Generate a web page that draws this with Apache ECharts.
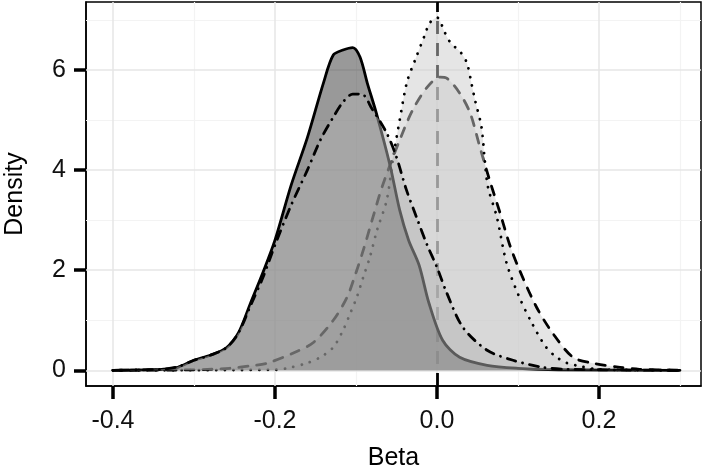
<!DOCTYPE html>
<html><head><meta charset="utf-8">
<script src="https://cdn.jsdelivr.net/npm/echarts@6/dist/echarts.min.js"></script>
<style>html,body{margin:0;padding:0;background:#fff}#c{width:709px;height:470px}</style>
</head><body><div id="c"></div>
<script>
// Curve A (solid, dark fill)
const aX = [-0.4, -0.36, -0.34, -0.32, -0.30, -0.28, -0.26, -0.245, -0.23, -0.215, -0.2, -0.18, -0.16, -0.14, -0.128, -0.116, -0.104, -0.095, -0.086, -0.075, -0.058, -0.046, -0.035, -0.022, -0.01, 0.007, 0.028, 0.062, 0.1, 0.15, 0.3];
const aY = [0, 0.01, 0.02, 0.06, 0.2, 0.3, 0.45, 0.75, 1.35, 1.95, 2.6, 3.7, 4.65, 5.75, 6.3, 6.4, 6.45, 6.26, 5.74, 5.15, 4.1, 3.2, 2.6, 2.1, 1.35, 0.6, 0.26, 0.1, 0.04, 0.01, 0];
// Curve B (dot-dash)
const bX = [-0.4, -0.34, -0.32, -0.30, -0.28, -0.26, -0.245, -0.23, -0.215, -0.2, -0.18, -0.16, -0.144, -0.128, -0.116, -0.104, -0.093, -0.08, -0.062, -0.05, -0.038, -0.025, -0.012, 0.0, 0.012, 0.032, 0.062, 0.094, 0.13, 0.16, 0.3];
const bY = [0, 0.02, 0.07, 0.2, 0.3, 0.45, 0.75, 1.3, 1.85, 2.5, 3.3, 4.0, 4.6, 5.06, 5.36, 5.52, 5.52, 5.22, 4.74, 4.26, 3.62, 3.05, 2.5, 2.06, 1.55, 0.86, 0.4, 0.2, 0.06, 0.02, 0];
// Curve C (dashed)
const cX = [-0.4, -0.3, -0.256, -0.23, -0.21, -0.178, -0.153, -0.128, -0.111, -0.1, -0.09, -0.079, -0.067, -0.046, -0.03, -0.012, 0.004, 0.012, 0.028, 0.041, 0.053, 0.065, 0.078, 0.09, 0.102, 0.123, 0.143, 0.168, 0.193, 0.226, 0.25, 0.3];
const cY = [0, 0.01, 0.04, 0.09, 0.14, 0.34, 0.55, 1.0, 1.46, 1.95, 2.45, 3.06, 3.7, 4.6, 5.2, 5.66, 5.86, 5.84, 5.54, 5.14, 4.46, 3.8, 3.14, 2.5, 2.0, 1.26, 0.74, 0.26, 0.14, 0.06, 0.02, 0];
// Curve D (dotted)
const dX = [-0.4, -0.2, -0.185, -0.161, -0.144, -0.128, -0.116, -0.107, -0.099, -0.091, -0.083, -0.074, -0.062, -0.054, -0.046, -0.037, -0.027, -0.015, -0.009, 0.0, 0.01, 0.017, 0.029, 0.037, 0.043, 0.047, 0.055, 0.059, 0.063, 0.074, 0.086, 0.102, 0.117, 0.133, 0.146, 0.16, 0.177, 0.2, 0.3];
const dY = [0, 0.01, 0.04, 0.14, 0.26, 0.46, 0.8, 1.14, 1.46, 1.86, 2.25, 2.8, 3.4, 4.26, 5.0, 5.76, 6.2, 6.7, 6.94, 7.05, 6.74, 6.54, 6.36, 6.14, 5.7, 5.4, 4.86, 4.2, 3.66, 3.06, 2.14, 1.45, 0.95, 0.5, 0.28, 0.15, 0.08, 0.02, 0];

const xTicks = [-0.4, -0.2, 0.0, 0.2];
const yTicks = [0, 2, 4, 6];
const xMinor = [-0.3, -0.1, 0.1, 0.3];
const yMinor = [1, 3, 5, 7];
const refLineX = 0;

const pair = (xs, ys) => xs.map((x, i) => [x, ys[i]]);
const FONT = 'Liberation Sans, Arial, sans-serif';

const gridLines = [].concat(
  xMinor.map(v => ({xAxis: v, lineStyle: {color: '#f3f3f3', width: 1.2, type: 'solid'}})),
  yMinor.map(v => ({yAxis: v, lineStyle: {color: '#f3f3f3', width: 1.2, type: 'solid'}})),
  xTicks.map(v => ({xAxis: v, lineStyle: {color: '#e6e6e6', width: 1.5, type: 'solid'}})),
  yTicks.map(v => ({yAxis: v, lineStyle: {color: '#e6e6e6', width: 1.5, type: 'solid'}}))
);

function curve(name, xs, ys, dash, fill, alpha, z) {
  return {
    name, type: 'line', data: pair(xs, ys), z,
    smooth: 0.3, showSymbol: false, symbol: 'none',
    lineStyle: {color: '#000', width: 2.8, type: dash, cap: 'round', join: 'round'},
    areaStyle: {color: fill, opacity: alpha},
    silent: true
  };
}

const chart = echarts.init(document.getElementById('c'), null, {renderer: 'canvas'});
chart.setOption({
  animation: false,
  backgroundColor: '#fff',
  grid: {left: 86, right: 8, top: 2, bottom: 84, show: true, borderColor: '#000', borderWidth: 1.5,
         backgroundColor: 'transparent', containLabel: false, outerBoundsMode: 'none'},
  xAxis: {
    type: 'value', min: -0.4333, max: 0.326,
    name: 'Beta', nameLocation: 'middle', nameGap: 60,
    nameTextStyle: {fontFamily: FONT, fontSize: 25, color: '#000'},
    axisLine: {show: true, onZero: false, lineStyle: {color: '#000', width: 1.5}},
    axisTick: {show: true, inside: false, length: 13, lineStyle: {color: '#000', width: 3.5}, customValues: xTicks},
    axisLabel: {show: true, margin: 23, fontFamily: FONT, fontSize: 25, color: '#111', customValues: xTicks, formatter: v => v.toFixed(1)},
    splitLine: {show: false}
  },
  yAxis: {
    type: 'value', min: -0.314, max: 7.36,
    name: 'Density', nameLocation: 'middle', nameGap: 58, nameRotate: 90,
    nameTextStyle: {fontFamily: FONT, fontSize: 25, color: '#000'},
    axisLine: {show: true, onZero: false, lineStyle: {color: '#000', width: 1.5}},
    axisTick: {show: true, inside: false, length: 12, lineStyle: {color: '#000', width: 3.5}, customValues: yTicks},
    axisLabel: {show: true, margin: 20, fontFamily: FONT, fontSize: 25, color: '#111', customValues: yTicks, formatter: v => String(v)},
    splitLine: {show: false}
  },
  series: [
    {type: 'line', data: [], silent: true, z: 1,
     markLine: {z: 1, silent: true, symbol: 'none', label: {show: false}, animation: false, data: gridLines}},
    {type: 'line', data: [], silent: true, z: 1,
     markLine: {z: 1, silent: true, symbol: 'none', label: {show: false}, animation: false,
       data: [{xAxis: refLineX, lineStyle: {color: '#000', width: 2.8, type: [13, 9]}}]}},
    curve('C', cX, cY, [9, 9], 'rgb(204,204,204)', 0.5, 2),
    curve('D', dX, dY, [0.1, 8.5], 'rgb(204,204,204)', 0.5, 3),
    curve('A', aX, aY, 'solid', 'rgb(51,51,51)', 0.5, 4),
    curve('B', bX, bY, [0.1, 7, 9, 7], 'rgb(179,179,179)', 0.5, 5)
  ]
});
</script>
</body></html>
